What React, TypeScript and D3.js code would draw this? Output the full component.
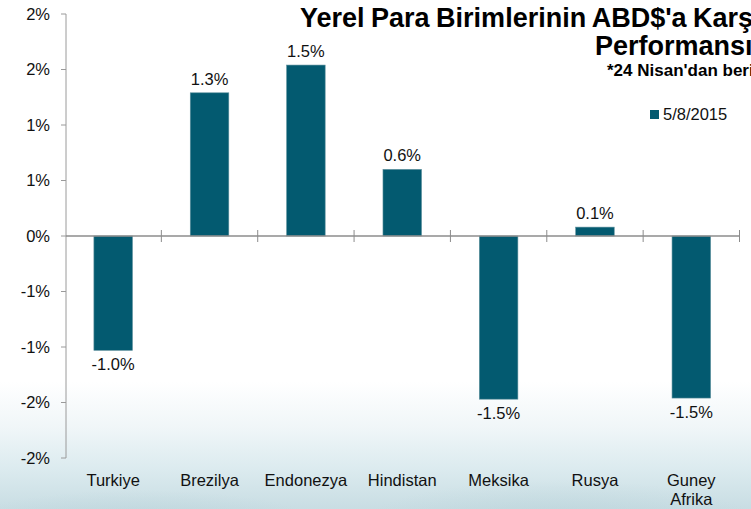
import React from 'react';
import * as d3 from 'd3';

const categories = ['Turkiye', 'Brezilya', 'Endonezya', 'Hindistan', 'Meksika', 'Rusya', 'Guney Afrika'];
const values = [-1.03, 1.29, 1.54, 0.6, -1.47, 0.08, -1.46];
const yTicks = [2, 1.5, 1, 0.5, 0, -0.5, -1, -1.5, -2];
const seriesName = '5/8/2015';
const titleLines = ["Yerel Para Birimlerinin ABD$'a Karşı", 'Performansı'];
const subtitle = "*24 Nisan'dan beri";

const W = 751;
const H = 509;
const font = '"Liberation Sans", Arial, sans-serif';
const barColor = '#035a70';

// excel style integer label: rounds half away from zero
const tickLabel = (v: number) => {
  const r = Math.sign(v) * Math.round(Math.abs(v));
  return `${r === 0 ? 0 : r}%`;
};

const App = () => {
  const x = d3.scaleBand<string>().domain(categories).range([65, 739.5]).paddingInner(0.6).paddingOuter(0.3);
  const y = d3.scaleLinear().domain([-2, 2]).range([458, 14]);
  const step = x.step();
  const x0 = 65;
  const y0 = y(0);

  return (
    <div style={{ position: 'absolute', left: 0, top: 0 }}>
      <svg width={W} height={H} style={{ display: 'block', fontFamily: font }}>
        <defs>
          <linearGradient id="bg" x1="0" y1="0" x2="0" y2="1">
            <stop offset="0" stopColor="#ffffff" />
            <stop offset="0.75" stopColor="#ffffff" />
            <stop offset="0.84" stopColor="#f0f6f8" />
            <stop offset="0.92" stopColor="#dcebef" />
            <stop offset="1" stopColor="#c8dde3" />
          </linearGradient>
          <radialGradient id="blot" cx="0.5" cy="0.5" r="0.5">
            <stop offset="0" stopColor="#b3cfd6" stopOpacity="0.5" />
            <stop offset="1" stopColor="#b3cfd6" stopOpacity="0" />
          </radialGradient>
        </defs>
        <rect width={W} height={H} fill="url(#bg)" />
        <ellipse cx={560} cy={525} rx={200} ry={45} fill="url(#blot)" />
        <ellipse cx={140} cy={525} rx={180} ry={35} fill="url(#blot)" />

        {/* title (runs past the right edge, as in the original) */}
        <text x={300} y={27} fontSize={27} fontWeight="bold" fill="#000" wordSpacing={-1}>
          {titleLines[0]}
        </text>
        <text x={595} y={55} fontSize={27} fontWeight="bold" fill="#000">
          {titleLines[1]}
        </text>
        <text x={607} y={76} fontSize={17} fontWeight="bold" fill="#000">
          {subtitle}
        </text>

        {/* legend */}
        <rect x={650} y={110} width={9} height={9} fill={barColor} />
        <text x={663} y={119.5} fontSize={16.5} fill="#111">
          {seriesName}
        </text>

        {/* y axis */}
        <line x1={66} x2={66} y1={y(2)} y2={y(-2)} stroke="#9a9a9a" strokeWidth={1} />
        {yTicks.map((t) => (
          <g key={t}>
            <line x1={61} x2={66} y1={y(t)} y2={y(t)} stroke="#9a9a9a" strokeWidth={1} />
            <text x={50} y={y(t)} dy="0.36em" textAnchor="end" fontSize={16.5} fill="#111">
              {tickLabel(t)}
            </text>
          </g>
        ))}

        {/* bars */}
        {categories.map((c, i) => {
          const v = values[i];
          const top = v >= 0 ? y(v) : y0;
          const h = Math.abs(y(v) - y0);
          const cx = (x(c) ?? 0) + x.bandwidth() / 2;
          return (
            <g key={c}>
              <rect x={x(c)} y={top} width={x.bandwidth()} height={h} fill={barColor} stroke="#5b8f9c" strokeWidth={0.6} />
              <text
                x={cx}
                y={v >= 0 ? y(v) - 8 : y(v) + 20}
                textAnchor="middle"
                fontSize={16.5}
                fill="#111"
              >
                {`${v.toFixed(1)}%`}
              </text>
            </g>
          );
        })}

        {/* zero line + category ticks */}
        <line x1={66} x2={739.5} y1={y0} y2={y0} stroke="#8c8c8c" strokeWidth={1.6} />
        {d3.range(1, categories.length + 1).map((i) => (
          <line key={i} x1={x0 + i * step} x2={x0 + i * step} y1={y0 - 6} y2={y0 + 6} stroke="#8c8c8c" strokeWidth={1} />
        ))}

        {/* category labels */}
        {categories.map((c) => {
          const cx = (x(c) ?? 0) + x.bandwidth() / 2;
          const words = c.split(' ');
          return (
            <text key={c} x={cx} y={486} textAnchor="middle" fontSize={16.5} fill="#111">
              {words.map((w, j) => (
                <tspan key={j} x={cx} dy={j === 0 ? 0 : 19}>
                  {w}
                </tspan>
              ))}
            </text>
          );
        })}
      </svg>
    </div>
  );
};

export default App;
